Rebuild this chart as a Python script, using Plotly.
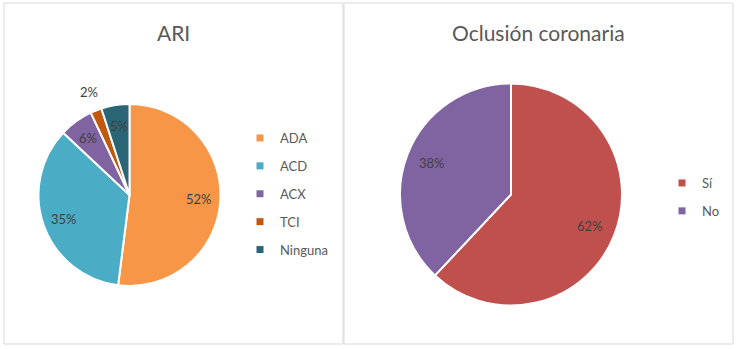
import math
import plotly.graph_objects as go

W, H = 736, 349

# ---- data ----
ari_title = "ARI"
ari_labels = ["ADA", "ACD", "ACX", "TCI", "Ninguna"]
ari_values = [52, 35, 6, 2, 5]
ari_colors = ["#F79646", "#4BACC6", "#8064A2", "#C0580E", "#2B6676"]
ari_label_place = ["in", "in", "in", "out", "in"]

occ_title = "Oclusión coronaria"
occ_labels = ["Sí", "No"]
occ_values = [62, 38]
occ_colors = ["#C0504D", "#8064A2"]
occ_label_place = ["in", "in"]

FONT = "Lato"
TXT = "#404040"
TITLE_C = "#595959"


def px(x):
    return x / W


def py(y):
    return 1 - y / H


fig = go.Figure()

# panel geometry (pixels)
panels = [
    dict(title=ari_title, labels=ari_labels, values=ari_values, colors=ari_colors,
         place=ari_label_place, cx=129.5, cy=195.0, r=91.0, title_x=173,
         box=(4, 3, 343, 344), legend="legend"),
    dict(title=occ_title, labels=occ_labels, values=occ_values, colors=occ_colors,
         place=occ_label_place, cx=511.0, cy=194.5, r=111.0, title_x=538,
         box=(344, 3, 733, 344), legend="legend2"),
]

annotations = []
shapes = []
for p in panels:
    cx, cy, r = p["cx"], p["cy"], p["r"]
    fig.add_trace(go.Pie(
        labels=p["labels"], values=p["values"], sort=False, direction="clockwise",
        rotation=0, textinfo="none", hoverinfo="label+percent",
        marker=dict(colors=p["colors"], line=dict(color="white", width=2)),
        domain=dict(x=[px(cx - r), px(cx + r)], y=[py(cy + r), py(cy - r)]),
        showlegend=False,
    ))
    # legend entries (small square markers)
    for lab, col in zip(p["labels"], p["colors"]):
        fig.add_trace(go.Scatter(
            x=[None], y=[None], mode="markers", name=lab,
            marker=dict(symbol="square", size=7, color=col),
            legend=p["legend"], legendgroup=lab, showlegend=True,
        ))
    # data labels
    total = sum(p["values"])
    cum = 0
    for v, place in zip(p["values"], p["place"]):
        mid = (cum + v / 2) / total
        cum += v
        th = 2 * math.pi * mid
        rf = 0.77 if place == "in" else 1.22
        x = cx + rf * r * math.sin(th)
        y = cy - rf * r * math.cos(th)
        annotations.append(dict(
            x=px(x), y=py(y), xref="paper", yref="paper", showarrow=False,
            text=f"{round(100 * v / total)}%", xanchor="center", yanchor="middle",
            font=dict(family=FONT, size=13, color=TXT),
        ))
    # title
    annotations.append(dict(
        x=px(p["title_x"]), y=py(32), xref="paper", yref="paper", showarrow=False,
        text=p["title"], xanchor="center", yanchor="middle",
        font=dict(family=FONT, size=21, color=TITLE_C),
    ))
    x0, y0, x1, y1 = p["box"]
    shapes.append(dict(type="rect", xref="paper", yref="paper",
                       x0=px(x0), x1=px(x1), y0=py(y1), y1=py(y0),
                       line=dict(color="#D9D9D9", width=1)))

fig.update_layout(
    width=W, height=H, margin=dict(l=0, r=0, t=0, b=0),
    paper_bgcolor="white", plot_bgcolor="white",
    xaxis=dict(visible=False), yaxis=dict(visible=False),
    annotations=annotations, shapes=shapes,
    legend=dict(x=px(240), y=py(123), xanchor="left", yanchor="top",
                font=dict(family=FONT, size=13, color=TITLE_C),
                tracegroupgap=8, bgcolor="rgba(0,0,0,0)"),
    legend2=dict(x=px(662), y=py(168), xanchor="left", yanchor="top",
                 font=dict(family=FONT, size=13, color=TITLE_C),
                 tracegroupgap=8, bgcolor="rgba(0,0,0,0)"),
)

fig.write_html(
    "out.html",
    config={"displayModeBar": False},
    post_script="document.body.style.margin='0';document.body.style.overflow='hidden';",
)
